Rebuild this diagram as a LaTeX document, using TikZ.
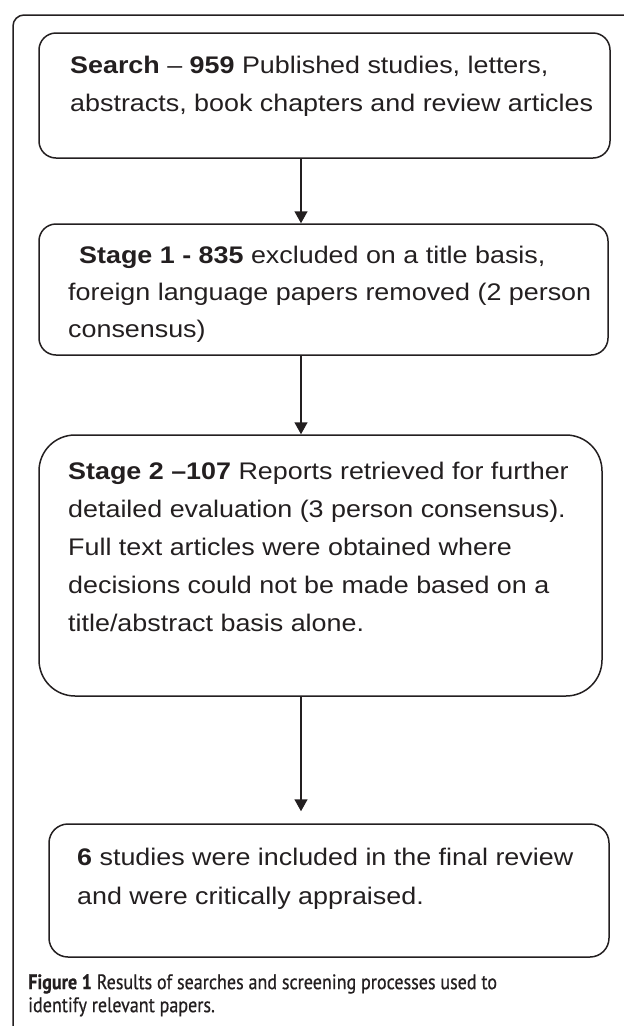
\documentclass[tikz,border=0pt]{standalone}
\usepackage{fontspec}
\setmainfont{Liberation Sans}[FakeStretch=1.12]
\newfontfamily\capfont{PT Sans}[Ligatures=NoCommon,FakeStretch=0.86,FakeBold=0.6]
\usetikzlibrary{arrows.meta}
\usetikzlibrary{positioning}
\definecolor{tinta}{RGB}{35,31,32}

\begin{document}
\begin{tikzpicture}[x=1pt,y=-1pt,color=tinta]
	\tikzstyle{caja}=[draw,line width=1.5pt,rounded corners=17pt,inner sep=0pt]
	\tikzstyle{texto}=[anchor=north west,inner sep=0pt,align=left]
	\tikzstyle{fleche}=[line width=1.5pt,-{Triangle[length=12pt,width=13pt]}]
	\useasboundingbox (0,0) rectangle (624,1026);
	% cadre de la figure
	\draw[line width=1.5pt,rounded corners=11pt] (13,1026) -- (13,15) -- (624,15);
	\node[caja,minimum width=571pt,minimum height=125pt] (search) at (324.5,95.5) {};
	\node[caja,minimum width=569pt,minimum height=131pt] (stage1) at (323.5,289.5) {};
	\node[caja,rounded corners=36pt,minimum width=563pt,minimum height=261pt] (stage2) at (320.5,565.5) {};
	\node[caja,rounded corners=19pt,minimum width=560pt,minimum height=133pt] (incl) at (329,890.5) {};
	\coordinate (eje) at (301,0);
	\draw[fleche] (search.south -| eje) -- (stage1.north -| eje);
	\draw[fleche] (stage1.south -| eje) -- (stage2.north -| eje);
	\draw[fleche,shorten >=12pt] (stage2.south -| eje) -- (incl.north -| eje);
	\node[texto,font=\fontsize{24}{38}\selectfont] (t1) at (70,56) {\textbf{Search} – \textbf{959} Published studies, letters,\\abstracts, book chapters and review articles};
	\node[texto,font=\fontsize{24}{37}\selectfont] (t2) at (68,246) {\hspace*{11pt}\textbf{Stage 1 - 835} excluded on a title basis,\\foreign language papers removed (2 person\\consensus)};
	\node[texto,font=\fontsize{24}{38}\selectfont] (t3) at (68,462) {\textbf{Stage 2 –107} Reports retrieved for further\\detailed evaluation (3 person consensus).\\Full text articles were obtained where\\decisions could not be made based on a\\title/abstract basis alone.};
	\node[texto,font=\fontsize{24}{39}\selectfont] (t4) at (77,848) {\textbf{6} studies were included in the final review\\and were critically appraised.};
	\node[texto,font=\capfont\fontsize{21}{23}\selectfont] (leyenda) at (28,974) {\textbf{Figure 1} Results of searches and screening processes used to\\identify relevant papers.};
\end{tikzpicture}
\end{document}
